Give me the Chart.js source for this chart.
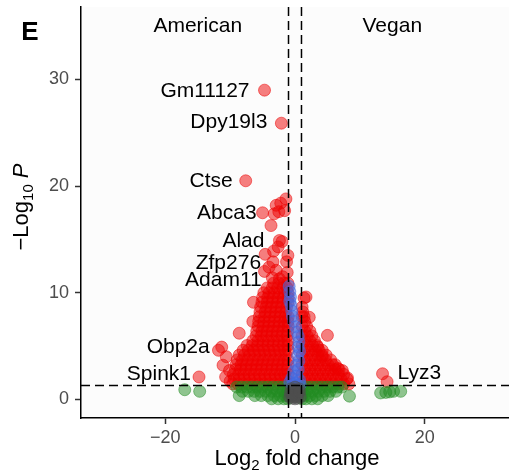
<!DOCTYPE html>
<html lang="en">
<head>
    <meta charset="UTF-8">
    <title>Volcano plot - American vs Vegan</title>
    <style>
        body {
            margin: 0;
            padding: 0;
            background: #fff;
        }
        #volcano {
            display: block;
        }
    </style>
</head>
<body>
    <canvas id="volcano" width="509" height="475"></canvas>

    <script src="https://cdn.jsdelivr.net/npm/chart.js"></script>
    <script>
        // axis ticks and cut-offs
        const xTicks = [-20, 0, 20];
        const yTicks = [0, 10, 20, 30];
        const fcCutoff = 1;      // |log2 fold change|
        const pCutoff = 1.3;     // -log10(0.05)

        // group names written across the top of the panel
        const groupNames = ['American', 'Vegan'];
        const groupX = [-15, 15];
        const groupY = [35, 35];

        // labelled genes [log2FC, -log10 P]
        const geneNames = ['Gm11127', 'Dpy19l3', 'Ctse', 'Abca3', 'Alad', 'Zfp276', 'Adam11', 'Obp2a', 'Spink1', 'Lyz3'];
        const genePoints = [
            [-4.7, 29.0], [-2.1, 25.9], [-7.6, 20.5], [-5.0, 17.5], [-2.4, 14.9],
            [-4.0, 12.4], [-1.9, 11.5], [-11.3, 4.9], [-14.8, 2.1], [13.5, 2.4]
        ];

        // significant by P and fold change (red), loose points
        const bothScatter = [
            [-1.4, 18.8], [-2.2, 18.4], [-2.9, 18.2], [-1.6, 17.7], [-2.5, 17.6], [-3.2, 17.4], [-3.7, 16.3],
            [-2.0, 14.8], [-2.6, 14.3], [-3.3, 13.9], [-4.6, 13.6], [-1.1, 13.5], [-1.3, 12.9], [-3.4, 12.9],
            [-4.7, 12.0], [-2.9, 12.1], [-2.4, 11.3], [-1.2, 11.9], [-3.5, 11.4],
            [-6.4, 9.1], [-6.5, 7.3], [-8.6, 6.2], [-11.8, 4.6], [-10.6, 4.0], [-11.1, 3.2], [-10.1, 2.7],
            [-10.7, 2.1], [-10.0, 1.7],
            [1.4, 9.5], [1.7, 9.6], [2.2, 7.7], [5.0, 6.0], [3.5, 4.9], [4.2, 4.0], [6.6, 2.9], [8.1, 2.0],
            [7.3, 2.7], [14.2, 1.65]
        ];

        // dense red mass left of -1
        const bothLeft = [
            [-9.6, 1.45], [-8.8, 1.45], [-8.0, 1.45], [-7.2, 1.45], [-6.4, 1.45], [-5.6, 1.45], [-4.8, 1.45], [-4.0, 1.45], [-3.2, 1.45], [-2.4, 1.45], [-1.7, 1.45], [-1.1, 1.45],
            [-9.4, 1.9], [-8.6, 1.9], [-7.8, 1.9], [-7.0, 1.9], [-6.2, 1.9], [-5.4, 1.9], [-4.6, 1.9], [-3.8, 1.9], [-3.0, 1.9], [-2.2, 1.9], [-1.4, 1.9],
            [-9.5, 2.35], [-8.7, 2.35], [-7.9, 2.35], [-7.1, 2.35], [-6.3, 2.35], [-5.5, 2.35], [-4.7, 2.35], [-3.9, 2.35], [-3.1, 2.35], [-2.3, 2.35], [-1.6, 2.35], [-1.05, 2.35],
            [-9.2, 2.8], [-8.4, 2.8], [-7.6, 2.8], [-6.8, 2.8], [-6.0, 2.8], [-5.2, 2.8], [-4.4, 2.8], [-3.6, 2.8], [-2.8, 2.8], [-2.0, 2.8], [-1.2, 2.8],
            [-9.1, 3.25], [-8.3, 3.25], [-7.5, 3.25], [-6.7, 3.25], [-5.9, 3.25], [-5.1, 3.25], [-4.3, 3.25], [-3.5, 3.25], [-2.7, 3.25], [-1.9, 3.25], [-1.1, 3.25],
            [-8.9, 3.7], [-8.1, 3.7], [-7.3, 3.7], [-6.5, 3.7], [-5.7, 3.7], [-4.9, 3.7], [-4.1, 3.7], [-3.3, 3.7], [-2.5, 3.7], [-1.7, 3.7], [-1.05, 3.7],
            [-8.6, 4.15], [-7.8, 4.15], [-7.0, 4.15], [-6.2, 4.15], [-5.4, 4.15], [-4.6, 4.15], [-3.8, 4.15], [-3.0, 4.15], [-2.2, 4.15], [-1.4, 4.15],
            [-8.0, 4.6], [-7.2, 4.6], [-6.4, 4.6], [-5.6, 4.6], [-4.8, 4.6], [-4.0, 4.6], [-3.2, 4.6], [-2.4, 4.6], [-1.6, 4.6], [-1.05, 4.6],
            [-7.4, 5.05], [-6.6, 5.05], [-5.8, 5.05], [-5.0, 5.05], [-4.2, 5.05], [-3.4, 5.05], [-2.6, 5.05], [-1.8, 5.05], [-1.1, 5.05],
            [-6.5, 5.5], [-5.7, 5.5], [-4.9, 5.5], [-4.1, 5.5], [-3.3, 5.5], [-2.5, 5.5], [-1.7, 5.5], [-1.05, 5.5],
            [-6.0, 5.95], [-5.2, 5.95], [-4.4, 5.95], [-3.6, 5.95], [-2.8, 5.95], [-2.0, 5.95], [-1.2, 5.95],
            [-5.9, 6.4], [-5.1, 6.4], [-4.3, 6.4], [-3.5, 6.4], [-2.7, 6.4], [-1.9, 6.4], [-1.1, 6.4],
            [-5.7, 6.85], [-4.9, 6.85], [-4.1, 6.85], [-3.3, 6.85], [-2.5, 6.85], [-1.7, 6.85], [-1.05, 6.85],
            [-5.6, 7.3], [-4.8, 7.3], [-4.0, 7.3], [-3.2, 7.3], [-2.4, 7.3], [-1.6, 7.3], [-1.1, 7.3],
            [-5.5, 7.75], [-4.7, 7.75], [-3.9, 7.75], [-3.1, 7.75], [-2.3, 7.75], [-1.5, 7.75], [-1.05, 7.75],
            [-5.4, 8.2], [-4.6, 8.2], [-3.8, 8.2], [-3.0, 8.2], [-2.2, 8.2], [-1.4, 8.2],
            [-5.3, 8.65], [-4.5, 8.65], [-3.7, 8.65], [-2.9, 8.65], [-2.1, 8.65], [-1.3, 8.65],
            [-5.1, 9.1], [-4.3, 9.1], [-3.5, 9.1], [-2.7, 9.1], [-1.9, 9.1], [-1.1, 9.1],
            [-5.0, 9.55], [-4.2, 9.55], [-3.4, 9.55], [-2.6, 9.55], [-1.8, 9.55], [-1.05, 9.55],
            [-4.8, 10.0], [-4.0, 10.0], [-3.2, 10.0], [-2.4, 10.0], [-1.6, 10.0], [-1.1, 10.0],
            [-4.3, 10.45], [-3.5, 10.45], [-2.7, 10.45], [-1.9, 10.45], [-1.2, 10.45],
            [-3.3, 10.9], [-2.5, 10.9], [-1.7, 10.9], [-1.1, 10.9]
        ];

        // dense red mass right of +1
        const bothRight = [
            [1.1, 1.45], [1.9, 1.45], [2.7, 1.45], [3.5, 1.45], [4.3, 1.45], [5.1, 1.45], [5.9, 1.45], [6.7, 1.45], [7.5, 1.45], [8.3, 1.45],
            [1.5, 1.9], [2.3, 1.9], [3.1, 1.9], [3.9, 1.9], [4.7, 1.9], [5.5, 1.9], [6.3, 1.9], [7.1, 1.9], [8.0, 1.9],
            [1.1, 2.35], [1.9, 2.35], [2.7, 2.35], [3.5, 2.35], [4.3, 2.35], [5.1, 2.35], [5.9, 2.35], [6.7, 2.35], [7.5, 2.35],
            [1.5, 2.8], [2.3, 2.8], [3.1, 2.8], [3.9, 2.8], [4.7, 2.8], [5.5, 2.8], [6.2, 2.8], [6.8, 2.8],
            [1.1, 3.25], [1.9, 3.25], [2.7, 3.25], [3.5, 3.25], [4.3, 3.25], [5.1, 3.25], [5.8, 3.25], [6.2, 3.25],
            [1.5, 3.7], [2.3, 3.7], [3.1, 3.7], [3.9, 3.7], [4.7, 3.7], [5.5, 3.7],
            [1.1, 4.15], [1.9, 4.15], [2.7, 4.15], [3.5, 4.15], [4.2, 4.15], [4.8, 4.15],
            [1.5, 4.6], [2.3, 4.6], [3.1, 4.6], [3.7, 4.6], [4.2, 4.6],
            [1.1, 5.05], [1.9, 5.05], [2.7, 5.05], [3.4, 5.05],
            [1.5, 5.5], [2.3, 5.5], [3.0, 5.5],
            [1.1, 5.95], [1.9, 5.95], [2.6, 5.95],
            [1.5, 6.4], [2.3, 6.4],
            [1.1, 6.85], [1.8, 6.85],
            [1.5, 7.3],
            [1.1, 7.75], [1.4, 7.75],
            [1.2, 8.2],
            [1.1, 8.65]
        ];

        // significant P only, |FC| < 1 (blue)
        const pOnly = [
            [-0.9, 10.6], [-0.8, 10.1], [-0.7, 9.6], [-0.8, 9.2], [-0.6, 8.8], [-0.5, 8.3], [-0.4, 7.8],
            [-0.2, 7.3], [0.1, 6.8], [0.3, 6.3], [0.5, 5.9], [0.6, 5.4], [0.5, 4.9], [0.7, 4.5], [0.4, 4.1],
            [0.6, 3.6], [0.2, 3.2], [0.5, 2.8], [-0.2, 2.6], [0.3, 2.2], [-0.5, 2.0], [0.7, 1.8], [-0.8, 1.6],
            [0.1, 1.5], [-0.3, 1.4], [0.8, 1.4]
        ];

        // fold change only, P >= 0.05 (green)
        const fcOnly = [
            [-9.0, 1.15], [-8.2, 1.15], [-7.4, 1.15], [-6.6, 1.15], [-5.8, 1.15], [-5.0, 1.15], [-4.2, 1.15], [-3.4, 1.15], [-2.6, 1.15], [-1.8, 1.15], [-1.1, 1.15],
            [1.1, 1.15], [1.8, 1.15], [2.6, 1.15], [3.4, 1.15], [4.2, 1.15], [5.0, 1.15], [5.8, 1.15], [6.6, 1.15], [7.2, 1.15],
            [-8.1, 0.75], [-7.2, 0.75], [-6.3, 0.75], [-5.4, 0.75], [-4.5, 0.75], [-3.6, 0.75], [-2.7, 0.75], [-1.8, 0.75], [-1.1, 0.75],
            [1.1, 0.75], [1.8, 0.75], [2.7, 0.75], [3.6, 0.75], [4.5, 0.75], [5.4, 0.75], [6.3, 0.75],
            [-6.2, 0.35], [-5.2, 0.35], [-4.2, 0.35], [-3.2, 0.35], [-2.3, 0.35], [-1.5, 0.35], [-1.05, 0.35],
            [1.05, 0.35], [1.5, 0.35], [2.3, 0.35], [3.2, 0.35], [4.2, 0.35], [5.1, 0.35],
            [-3.6, 0.05], [-2.6, 0.05], [-1.7, 0.05], [-1.1, 0.05], [1.1, 0.05], [1.7, 0.05], [2.6, 0.05], [3.5, 0.05],
            [-17.0, 0.9], [-14.7, 0.75], [-8.6, 0.35], [8.4, 0.3],
            [13.2, 0.6], [14.0, 0.65], [14.6, 0.7], [15.2, 0.75], [16.3, 0.75]
        ];

        // not significant (grey)
        const notSig = [
            [-0.8, 0.2], [-0.4, 0.1], [0.0, 0.05], [0.4, 0.1], [0.8, 0.2], [-0.7, 0.6], [-0.3, 0.5], [0.1, 0.45],
            [0.5, 0.55], [-0.6, 1.0], [-0.2, 0.9], [0.2, 0.85], [0.6, 1.0], [-0.1, 0.25], [0.3, 0.3], [0.0, 1.15],
            [-0.5, 0.35], [0.7, 0.7]
        ];

        const FONT = '"Liberation Sans", Arial, Helvetica, sans-serif';
        const toXY = pts => pts.map(p => ({ x: p[0], y: p[1] }));
        const minus = v => (v < 0 ? '\u2212' + Math.abs(v) : String(v));

        // pixel nudges for gene labels (relative to the point)
        const labelNudge = {
            Gm11127: [-15, 1], Dpy19l3: [-14, -1], Ctse: [-13, 0], Abca3: [-6, 0], Alad: [-15, 1],
            Zfp276: [-8, -4], Adam11: [-21, 3], Obp2a: [-12, 0], Spink1: [-8, -3], Lyz3: [15, -1]
        };

        // draws a run of text pieces (for subscripts / italics), centred on cx
        function drawRuns(ctx, runs, cx, baseY) {
            let total = 0;
            runs.forEach(r => { ctx.font = r.font; total += ctx.measureText(r.t).width; });
            let x = cx - total / 2;
            ctx.textAlign = 'left';
            ctx.textBaseline = 'alphabetic';
            runs.forEach(r => {
                ctx.font = r.font;
                ctx.fillText(r.t, x, baseY + (r.dy || 0));
                x += ctx.measureText(r.t).width;
            });
        }

        const volcanoDecor = {
            id: 'volcanoDecor',
            beforeDraw(chart) {
                const { ctx, chartArea: a } = chart;
                ctx.save();
                ctx.fillStyle = '#fcfcfc';
                ctx.fillRect(a.left, a.top, a.right - a.left, a.bottom - a.top);
                ctx.restore();
            },
            afterDatasetsDraw(chart) {
                const { ctx, chartArea: a, scales: { x, y } } = chart;

                // cut-off lines
                ctx.save();
                ctx.beginPath();
                ctx.rect(a.left, a.top, a.right - a.left, a.bottom - a.top);
                ctx.clip();
                ctx.strokeStyle = '#000';
                ctx.lineWidth = 1.5;
                ctx.setLineDash([9, 5]);
                [-fcCutoff, fcCutoff].forEach(v => {
                    const px = x.getPixelForValue(v);
                    ctx.beginPath();
                    ctx.moveTo(px, a.top);
                    ctx.lineTo(px, a.bottom);
                    ctx.stroke();
                });
                const py = y.getPixelForValue(pCutoff);
                ctx.beginPath();
                ctx.moveTo(a.left, py);
                ctx.lineTo(a.right, py);
                ctx.stroke();
                ctx.restore();

                // gene labels
                ctx.save();
                ctx.fillStyle = '#000';
                ctx.font = '21px ' + FONT;
                ctx.textBaseline = 'middle';
                geneNames.forEach((name, i) => {
                    const [dx, dy] = labelNudge[name];
                    const px = x.getPixelForValue(genePoints[i][0]);
                    const py2 = y.getPixelForValue(genePoints[i][1]);
                    ctx.textAlign = dx < 0 ? 'right' : 'left';
                    ctx.fillText(name, px + dx, py2 + dy);
                });

                // group names
                ctx.textAlign = 'center';
                groupNames.forEach((g, i) => {
                    ctx.fillText(g, x.getPixelForValue(groupX[i]), y.getPixelForValue(groupY[i]));
                });
                ctx.restore();
            },
            afterDraw(chart) {
                const { ctx } = chart;
                ctx.save();
                ctx.fillStyle = '#000';

                // panel letter
                ctx.font = 'bold 26px ' + FONT;
                ctx.textAlign = 'center';
                ctx.textBaseline = 'middle';
                ctx.fillText('E', 30, 33);

                // x title
                drawRuns(ctx, [
                    { t: 'Log', font: '22px ' + FONT },
                    { t: '2', font: '15px ' + FONT, dy: 5 },
                    { t: ' fold change', font: '22px ' + FONT }
                ], 297, 465);

                // y title, rotated
                ctx.translate(28, 207);
                ctx.rotate(-Math.PI / 2);
                drawRuns(ctx, [
                    { t: '\u2212Log', font: '22px ' + FONT },
                    { t: '10', font: '15px ' + FONT, dy: 5 },
                    { t: ' ', font: '22px ' + FONT },
                    { t: 'P', font: 'italic 22px ' + FONT }
                ], 0, 0);
                ctx.restore();
            }
        };

        const pointStyle = (r, g, b) => ({
            backgroundColor: `rgba(${r}, ${g}, ${b}, 0.5)`,
            borderColor: `rgba(${r}, ${g}, ${b}, 0.5)`
        });

        // the panel edges are fixed, so drop the label padding Chart.js adds
        const noEdgePadding = s => {
            s.paddingTop = 0;
            s.paddingBottom = 0;
            s.paddingLeft = 0;
            s.paddingRight = 0;
        };

        new Chart(document.getElementById('volcano'), {
            type: 'scatter',
            data: {
                datasets: [
                    { label: 'NS', data: toXY(notSig), order: 0, ...pointStyle(77, 77, 77) },
                    { label: 'p-value', data: toXY(pOnly), order: 1, ...pointStyle(65, 105, 225) },
                    { label: 'Log2 FC', data: toXY(fcOnly), order: 2, ...pointStyle(34, 139, 34) },
                    {
                        label: 'p-value and log2 FC',
                        data: toXY(genePoints.concat(bothScatter, bothLeft, bothRight)),
                        order: 3,
                        ...pointStyle(238, 0, 0)
                    }
                ]
            },
            options: {
                responsive: false,
                animation: false,
                events: [],
                layout: { autoPadding: false, padding: { top: 7, right: 0, bottom: 0, left: 0 } },
                plugins: {
                    legend: { display: false },
                    tooltip: { enabled: false }
                },
                elements: {
                    point: { radius: 6, borderWidth: 1, hoverRadius: 6 }
                },
                scales: {
                    x: {
                        type: 'linear',
                        min: -33,
                        max: 33,
                        afterBuildTicks: s => { s.ticks = xTicks.map(v => ({ value: v })); },
                        afterFit: s => { s.height = 57; noEdgePadding(s); },
                        ticks: {
                            autoSkip: false,
                            padding: 3,
                            color: '#4d4d4d',
                            font: { family: FONT, size: 18 },
                            callback: v => minus(v)
                        },
                        grid: {
                            drawOnChartArea: false,
                            tickLength: 6,
                            tickColor: '#333',
                            tickWidth: 1.5,
                            color: '#333'
                        },
                        border: { display: true, color: '#000', width: 1.5 }
                    },
                    y: {
                        type: 'linear',
                        min: -1.75,
                        max: 36.8,
                        afterBuildTicks: s => { s.ticks = yTicks.map(v => ({ value: v })); },
                        afterFit: s => { s.width = 81; noEdgePadding(s); },
                        ticks: {
                            autoSkip: false,
                            padding: 6,
                            color: '#4d4d4d',
                            font: { family: FONT, size: 18 },
                            callback: v => minus(v)
                        },
                        grid: {
                            drawOnChartArea: false,
                            tickLength: 6,
                            tickColor: '#333',
                            tickWidth: 1.5,
                            color: '#333'
                        },
                        border: { display: true, color: '#000', width: 1.5 }
                    }
                }
            },
            plugins: [volcanoDecor]
        });
    </script>
</body>
</html>
